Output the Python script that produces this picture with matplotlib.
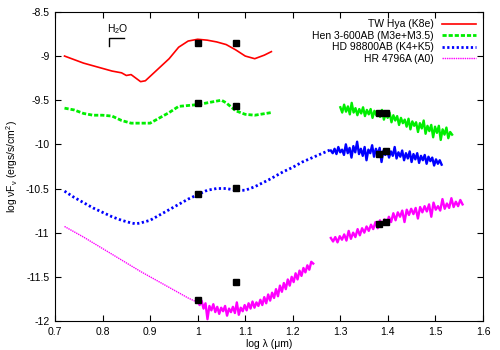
import numpy as np
import matplotlib
matplotlib.use("Agg")
import matplotlib.pyplot as plt
from matplotlib.ticker import MultipleLocator, FormatStrFormatter

plt.rcParams['font.family'] = ['Liberation Sans', 'DejaVu Sans']
plt.rcParams['mathtext.default'] = 'regular'

# --- smooth (low resolution) parts of the spectra ---
tw_x = [0.72, 0.74, 0.76, 0.78, 0.80, 0.82, 0.84, 0.85, 0.86, 0.87, 0.88, 0.89, 0.90,
        0.92, 0.94, 0.96, 0.98, 1.00, 1.02, 1.04, 1.06, 1.08, 1.10, 1.12, 1.14, 1.155]
tw_y = [-9.00, -9.04, -9.08, -9.11, -9.14, -9.17, -9.19, -9.22, -9.21, -9.25, -9.29, -9.28, -9.23,
        -9.13, -9.03, -8.90, -8.83, -8.81, -8.82, -8.84, -8.87, -8.93, -9.00, -9.03, -8.99, -8.95]

hen_x = [0.72, 0.74, 0.76, 0.78, 0.80, 0.82, 0.84, 0.86, 0.88, 0.90, 0.92, 0.94,
         0.96, 0.98, 1.00, 1.02, 1.04, 1.05, 1.06, 1.08, 1.10, 1.12, 1.155]
hen_y = [-9.59, -9.61, -9.65, -9.67, -9.67, -9.68, -9.73, -9.76, -9.76, -9.76, -9.70, -9.64,
         -9.57, -9.56, -9.55, -9.53, -9.51, -9.50, -9.53, -9.62, -9.66, -9.67, -9.64]

hd_x = [0.72, 0.74, 0.76, 0.78, 0.80, 0.82, 0.84, 0.86, 0.87, 0.88, 0.90, 0.92, 0.94, 0.96,
        0.98, 1.00, 1.02, 1.04, 1.06, 1.08, 1.10, 1.12, 1.15, 1.18, 1.20, 1.22, 1.25, 1.28]
hd_y = [-10.53, -10.60, -10.66, -10.72, -10.77, -10.82, -10.86, -10.89, -10.90, -10.89, -10.86,
        -10.80, -10.74, -10.68, -10.62, -10.57, -10.52, -10.50, -10.50, -10.52, -10.52, -10.48,
        -10.40, -10.31, -10.26, -10.20, -10.13, -10.06]

hr_x = [0.72, 0.76, 0.80, 0.84, 0.88, 0.92, 0.96, 0.98, 1.00]
hr_y = [-10.93, -11.05, -11.18, -11.31, -11.44, -11.56, -11.68, -11.74, -11.79]

# --- noisy (high resolution) parts, evenly sampled between start and end ---
hen_ir_range = (1.300, 1.535)
hen_ir_y = [-9.58, -9.64, -9.55, -9.63, -9.57, -9.66, -9.53, -9.64, -9.59, -9.67,
            -9.60, -9.65, -9.58, -9.68, -9.61, -9.66, -9.60, -9.70, -9.62, -9.67,
            -9.63, -9.69, -9.61, -9.72, -9.65, -9.70, -9.64, -9.75, -9.67, -9.73,
            -9.68, -9.78, -9.70, -9.76, -9.72, -9.80, -9.71, -9.83, -9.74, -9.79,
            -9.75, -9.86, -9.76, -9.82, -9.73, -9.88, -9.79, -9.85, -9.78, -9.92,
            -9.80, -9.87, -9.79, -9.95, -9.83, -9.89, -9.81, -9.93, -9.86, -9.89]

hd_ir_range = (1.280, 1.513)
hd_ir_y = [-10.07, -10.10, -10.05, -10.11, -10.03, -10.09, -10.06, -10.12, -10.00, -10.10,
           -10.04, -10.15, -10.02, -10.09, -9.97, -10.11, -10.05, -10.13, -10.03, -10.18,
           -10.06, -10.10, -10.01, -10.14, -10.05, -10.12, -10.04, -10.20, -10.07, -10.12,
           -10.06, -10.15, -10.08, -10.13, -10.03, -10.16, -10.09, -10.14, -10.07, -10.18,
           -10.10, -10.16, -10.08, -10.20, -10.11, -10.17, -10.10, -10.21, -10.13, -10.18,
           -10.12, -10.22, -10.14, -10.19, -10.15, -10.24, -10.17, -10.22, -10.18, -10.23]

hr_nir_range = (1.000, 1.243)
hr_nir_y = [-11.78, -11.82, -11.77, -11.86, -11.80, -11.98, -11.83, -11.88, -11.81, -11.90,
            -11.84, -11.92, -11.85, -11.89, -11.83, -11.94, -11.86, -11.90, -11.84, -11.91,
            -11.79, -11.93, -11.85, -11.89, -11.82, -11.88, -11.80, -11.86, -11.78, -11.85,
            -11.79, -11.83, -11.76, -11.82, -11.73, -11.80, -11.70, -11.77, -11.68, -11.74,
            -11.64, -11.72, -11.60, -11.67, -11.57, -11.64, -11.53, -11.60, -11.50, -11.56,
            -11.46, -11.53, -11.43, -11.49, -11.40, -11.45, -11.37, -11.42, -11.33, -11.35]

hr_ir_range = (1.280, 1.557)
hr_ir_y = [-11.06, -11.10, -11.05, -11.11, -11.04, -11.08, -11.02, -11.09, -10.98, -11.07,
           -11.00, -11.05, -10.96, -11.03, -10.95, -11.00, -10.93, -10.98, -10.91, -10.96,
           -10.88, -10.95, -10.86, -10.92, -10.85, -10.91, -10.82, -10.88, -10.78, -10.86,
           -10.77, -10.82, -10.75, -10.88, -10.74, -10.80, -10.73, -10.79, -10.72, -10.84,
           -10.71, -10.77, -10.70, -10.76, -10.68, -10.82, -10.66, -10.74, -10.70, -10.75,
           -10.62, -10.73, -10.67, -10.72, -10.61, -10.71, -10.65, -10.70, -10.63, -10.68]

# photometry points
phot_x = [1.0, 1.08, 1.0, 1.08, 1.0, 1.08, 1.0, 1.08,
          1.381, 1.397, 1.381, 1.397, 1.381, 1.397]
phot_y = [-8.85, -8.85, -9.53, -9.57, -10.56, -10.49, -11.76, -11.56,
          -9.64, -9.64, -10.11, -10.07, -10.90, -10.88]

labels = ['TW Hya (K8e)', 'Hen 3-600AB (M3e+M3.5)', 'HD 98800AB (K4+K5)', 'HR 4796A (A0)']
colors = ['#ff0000', '#00ee00', '#0000ff', '#ff00ff']


def grid(rng, vals):
    return np.linspace(rng[0], rng[1], len(vals))


fig = plt.figure(figsize=(5, 3.5), dpi=100)
ax = fig.add_axes([0.11, 0.083, 0.856, 0.883])

ax.plot(tw_x, tw_y, color=colors[0], lw=1.2, label=labels[0])

ax.plot(hen_x, hen_y, color=colors[1], lw=2.0, ls=(0, (1.5, 0.7)), label=labels[1])
ax.plot(grid(hen_ir_range, hen_ir_y), hen_ir_y, color=colors[1], lw=1.7)

ax.plot(hd_x, hd_y, color=colors[2], lw=2.0, ls=(0, (0.8, 0.9)), label=labels[2])
ax.plot(grid(hd_ir_range, hd_ir_y), hd_ir_y, color=colors[2], lw=1.7)

ax.plot(hr_x, hr_y, color=colors[3], lw=1.0, ls=(0, (1, 0.6)), label=labels[3])
ax.plot(grid(hr_nir_range, hr_nir_y), hr_nir_y, color=colors[3], lw=1.7)
ax.plot(grid(hr_ir_range, hr_ir_y), hr_ir_y, color=colors[3], lw=1.7)

ax.plot(phot_x, phot_y, 'ks', ms=5, ls='none')

# H2O band marker
ax.plot([0.813, 0.813, 0.845], [-8.885, -8.795, -8.795], color='black', lw=1)
ax.text(0.832, -8.70, 'H$_2$O', ha='center', va='center', fontsize=7.5)

ax.set_xlim(0.7, 1.6)
ax.set_ylim(-12, -8.5)
ax.xaxis.set_major_locator(MultipleLocator(0.1))
ax.yaxis.set_major_locator(MultipleLocator(0.5))
ax.xaxis.set_major_formatter(FormatStrFormatter('%g'))
ax.yaxis.set_major_formatter(FormatStrFormatter('%g'))
ax.tick_params(direction='in', top=True, right=True, length=4, labelsize=7.5, pad=4)

ax.set_xlabel('log λ (μm)', fontsize=7.5, labelpad=2)
ax.set_ylabel('log νF$_ν$ (ergs/s/cm$^2$)', fontsize=7.5, labelpad=4)

ax.legend(loc='upper right', frameon=False, markerfirst=False, fontsize=7.5,
          handlelength=3.2, labelspacing=0.15, borderaxespad=0.3, handletextpad=0.8)

fig.savefig('out.png', dpi=100)
